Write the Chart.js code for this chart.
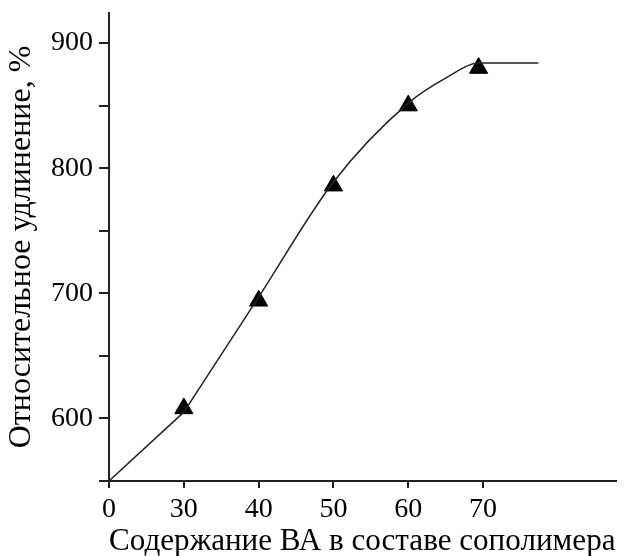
<!DOCTYPE html>
<html>
<head>
<meta charset="utf-8">
<script src="https://cdn.jsdelivr.net/npm/chart.js@4"></script>
<style>
  body { margin: 0; background: #fff; }
  #wrap { width: 627px; height: 556px; }
</style>
</head>
<body>
<div id="wrap"><canvas id="elongChart" width="627" height="556"></canvas></div>
<script>
// --- Data ---
const vaContent = [30, 40, 50, 60, 69.4];        // measured points, % VA
const elongation = [608, 694, 786, 850, 880];    // elongation, %

// straight start of the curve, then the smooth fitted part
const startX = [20, 30];
const startY = [550, 605];
const curveX = [30, 40, 50, 60, 65, 69.5, 77.4];
const curveY = [605, 697, 789, 852, 872, 884, 884];

const xTicks = [20, 30, 40, 50, 60, 70];
const xTickLabels = ["0", "30", "40", "50", "60", "70"];
const yTicks = [550, 600, 650, 700, 750, 800, 850, 900];
const yTickLabels = ["", "600", "", "700", "", "800", "", "900"];

const serif = "'Liberation Serif', 'Times New Roman', serif";
const ink = "#222";

const toPoints = (xs, ys) => xs.map((x, i) => ({ x: x, y: ys[i] }));

// keep the plot box where the figure has it
const noEdgePadding = (s) => {
  s.paddingTop = 0; s.paddingBottom = 0;
  s.paddingLeft = 0; s.paddingRight = 0;
};

const ctx = document.getElementById("elongChart").getContext("2d");

const elongChart = new Chart(ctx, {
  type: "line",
  data: {
    datasets: [
      {
        label: "start",
        data: toPoints(startX, startY),
        borderColor: ink,
        borderWidth: 1.5,
        pointRadius: 0,
        tension: 0
      },
      {
        label: "curve",
        data: toPoints(curveX, curveY),
        borderColor: ink,
        borderWidth: 1.5,
        pointRadius: 0,
        cubicInterpolationMode: "monotone",
        fill: false
      },
      {
        label: "points",
        data: toPoints(vaContent, elongation),
        showLine: false,
        pointStyle: "triangle",
        pointRadius: 10.5,
        backgroundColor: "#000",
        borderColor: "#000",
        borderWidth: 1
      }
    ]
  },
  options: {
    responsive: false,
    animation: false,
    layout: { padding: { top: 13, right: 5, left: 0, bottom: 0 } },
    plugins: {
      legend: { display: false },
      tooltip: { enabled: false }
    },
    scales: {
      x: {
        type: "linear",
        min: 20,
        max: 87.7,
        afterBuildTicks: (s) => { s.ticks = xTicks.map(v => ({ value: v })); },
        afterFit: (s) => { s.height = 75; noEdgePadding(s); },
        ticks: {
          color: "#000",
          padding: 5,
          maxRotation: 0,
          font: { family: serif, size: 28 },
          callback: (v) => xTickLabels[xTicks.indexOf(v)]
        },
        grid: { drawOnChartArea: false, color: ink, lineWidth: 2, tickLength: 7 },
        border: { color: ink, width: 2 },
        title: {
          display: true,
          text: "Содержание ВА в составе сополимера",
          color: "#000",
          padding: { top: 0, bottom: 0 },
          font: { family: serif, size: 32, lineHeight: 0.9 }
        }
      },
      y: {
        min: 550,
        max: 924,
        afterBuildTicks: (s) => { s.ticks = yTicks.map(v => ({ value: v })); },
        afterFit: (s) => { s.width = 109; noEdgePadding(s); },
        ticks: {
          color: "#000",
          padding: 6,
          font: { family: serif, size: 28 },
          callback: (v) => yTickLabels[yTicks.indexOf(v)]
        },
        grid: { drawOnChartArea: false, color: ink, lineWidth: 2, tickLength: 10 },
        border: { color: ink, width: 2 },
        title: {
          display: true,
          text: "Относительное удлинение, %",
          color: "#000",
          padding: { top: 7, bottom: 0 },
          font: { family: serif, size: 32, lineHeight: 0.9 }
        }
      }
    }
  }
});
</script>
</body>
</html>
